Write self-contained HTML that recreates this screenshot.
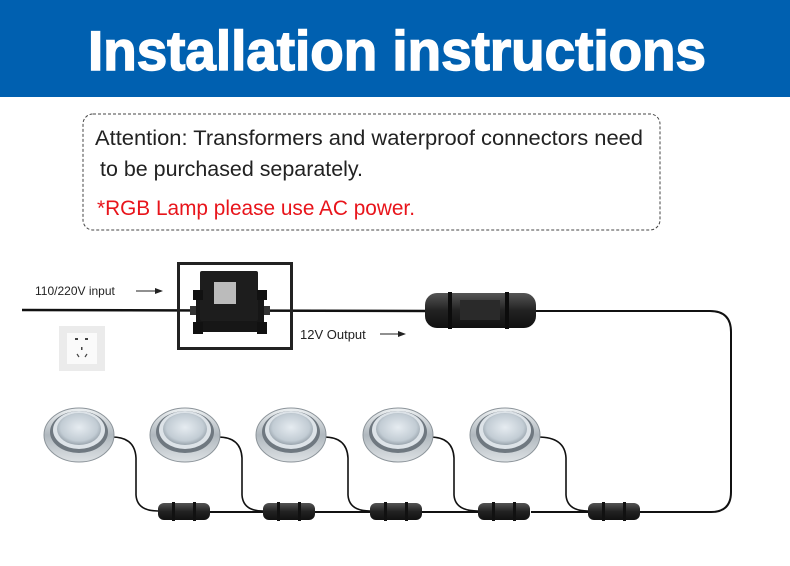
<!DOCTYPE html>
<html><head><meta charset="utf-8"><style>
html,body{margin:0;padding:0;background:#fff;}
svg{display:block;font-family:"Liberation Sans",sans-serif;}
</style></head><body>
<svg width="790" height="566" viewBox="0 0 790 566" xmlns="http://www.w3.org/2000/svg">
<defs>
<radialGradient id="lens" cx="0.5" cy="0.45" r="0.6">
<stop offset="0" stop-color="#e6ecf1"/><stop offset="0.7" stop-color="#c2ccd4"/><stop offset="1" stop-color="#8a959e"/>
</radialGradient>
<linearGradient id="ring" x1="0" y1="0" x2="0" y2="1">
<stop offset="0" stop-color="#eef1f3"/><stop offset="0.5" stop-color="#b0b8be"/><stop offset="1" stop-color="#dde1e4"/>
</linearGradient>
<linearGradient id="conn" x1="0" y1="0" x2="0" y2="1">
<stop offset="0" stop-color="#555"/><stop offset="0.5" stop-color="#222"/><stop offset="1" stop-color="#111"/>
</linearGradient>
<g id="lamp">
<ellipse cx="0" cy="0" rx="35" ry="27" fill="url(#ring)" stroke="#8c949a" stroke-width="1"/>
<ellipse cx="0" cy="-3" rx="29" ry="21" fill="#6f7880"/>
<ellipse cx="0" cy="-5" rx="26" ry="19" fill="#dde3e8"/>
<ellipse cx="0" cy="-6" rx="22" ry="16" fill="url(#lens)"/>
</g>
<g id="sconn">
<rect x="0" y="-8" width="52" height="17" rx="6" fill="url(#conn)"/>
<rect x="14" y="-9" width="3" height="19" fill="#111"/>
<rect x="35" y="-9" width="3" height="19" fill="#111"/>
</g>
</defs>
<rect x="0" y="0" width="790" height="97" fill="#0060b0"/>
<text x="397" y="70" text-anchor="middle" font-size="56" font-weight="bold" fill="#fff" stroke="#fff" stroke-width="1.5" textLength="618" lengthAdjust="spacingAndGlyphs">Installation instructions</text>
<rect x="83" y="114" width="577" height="116" rx="10" fill="none" stroke="#444" stroke-width="1" stroke-dasharray="3,2"/>
<text x="95" y="145" font-size="21" fill="#222" textLength="548" lengthAdjust="spacingAndGlyphs">Attention: Transformers and waterproof connectors need</text>
<text x="100" y="176" font-size="21" fill="#222" textLength="263" lengthAdjust="spacingAndGlyphs">to be purchased separately.</text>
<text x="97" y="215" font-size="21" fill="#e8141b" textLength="318" lengthAdjust="spacingAndGlyphs">*RGB Lamp please use AC power.</text>

<path d="M22 310 L430 311" stroke="#111" stroke-width="2.5" fill="none"/>
<path d="M535 311 L710 311 Q731 311 731 332 L731 492 Q731 512 711 512 L640 512" stroke="#111" stroke-width="2" fill="none"/>
<path d="M210 512 L263 512 M315 512 L370 512 M422 512 L478 512 M531 512 L588 512" stroke="#111" stroke-width="2" fill="none"/>
<g stroke="#111" stroke-width="1.6" fill="none">
<path d="M112 437 Q135 437 136 458 L136 495 Q137 511 158 511"/>
<path d="M218 437 Q241 437 242 458 L242 495 Q243 511 263 511"/>
<path d="M324 437 Q347 437 348 458 L348 495 Q349 511 370 511"/>
<path d="M430 437 Q453 437 454 458 L454 495 Q455 511 478 511"/>
<path d="M538 437 Q565 437 566 458 L566 495 Q567 511 588 511"/>
</g>
<text x="35" y="295" font-size="12" fill="#222">110/220V input</text>
<path d="M136 291 L158 291" stroke="#222" stroke-width="1"/><path d="M163 291 L155 288 L155 294 Z" fill="#222"/>
<text x="300" y="339" font-size="13" fill="#222">12V Output</text>
<path d="M380 334 L400 334" stroke="#222" stroke-width="1"/><path d="M406 334 L398 331 L398 337 Z" fill="#222"/>
<rect x="178.5" y="263.5" width="113" height="85" fill="none" stroke="#222" stroke-width="3"/>
<rect x="196" y="295" width="68" height="37" fill="#161616"/>
<rect x="200" y="271" width="58" height="50" rx="2" fill="#1d1d1d"/>
<rect x="214" y="282" width="22" height="22" fill="#bbb"/>
<rect x="193" y="290" width="10" height="10" fill="#111"/><rect x="257" y="290" width="10" height="10" fill="#111"/>
<rect x="193" y="322" width="10" height="12" fill="#111"/><rect x="257" y="322" width="10" height="12" fill="#111"/>
<rect x="190" y="306" width="6" height="9" fill="#333"/><rect x="264" y="306" width="6" height="9" fill="#333"/>
<rect x="59" y="326" width="46" height="45" fill="#ebebeb"/>
<rect x="67" y="333" width="30" height="31" fill="#fafafa"/>
<rect x="75" y="338" width="3" height="2" fill="#444"/><rect x="85" y="338" width="3" height="2" fill="#444"/>
<rect x="81" y="347" width="1.5" height="3" fill="#444"/>
<path d="M77 354 L79 357 M87 354 L85 357" stroke="#444" stroke-width="1.2"/>
<rect x="425" y="293" width="111" height="35" rx="12" fill="url(#conn)"/>
<rect x="448" y="292" width="4" height="37" fill="#0c0c0c"/>
<rect x="505" y="292" width="4" height="37" fill="#0c0c0c"/>
<rect x="460" y="300" width="40" height="20" fill="#2a2a2a"/>
<use href="#sconn" x="158" y="511"/>
<use href="#sconn" x="263" y="511"/>
<use href="#sconn" x="370" y="511"/>
<use href="#sconn" x="478" y="511"/>
<use href="#sconn" x="588" y="511"/>
<use href="#lamp" x="79" y="435"/>
<use href="#lamp" x="185" y="435"/>
<use href="#lamp" x="291" y="435"/>
<use href="#lamp" x="398" y="435"/>
<use href="#lamp" x="505" y="435"/>
</svg>
</body></html>
